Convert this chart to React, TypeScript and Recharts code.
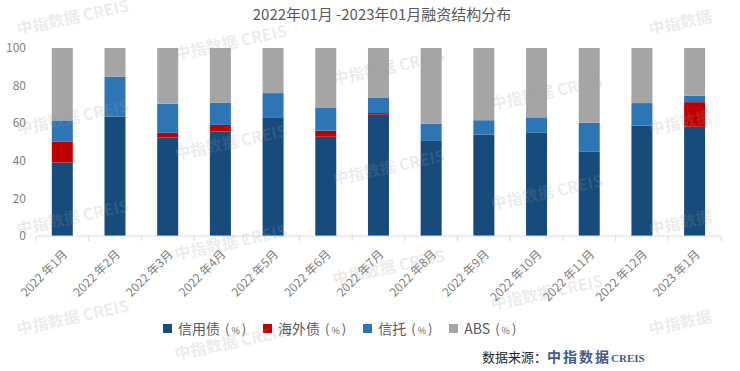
import React from 'react';
import { BarChart, Bar, XAxis, YAxis } from 'recharts';

const months = ['2022 年1月', '2022 年2月', '2022 年3月', '2022 年4月', '2022 年5月', '2022 年6月', '2022 年7月', '2022 年8月', '2022 年9月', '2022 年10月', '2022 年11月', '2022 年12月', '2023 年1月'];
const credit = [39.1, 63.6, 52.4, 55.6, 63.2, 52.8, 64.5, 50.6, 54.0, 54.9, 44.9, 58.8, 58.1];
const overseas = [11.2, 0, 2.5, 3.5, 0, 3.2, 0.9, 0, 0, 0, 0, 0, 13.1];
const trust = [11.2, 21.1, 15.4, 11.8, 12.8, 12.4, 8.3, 9.1, 7.6, 8.2, 15.3, 11.9, 3.4];
const absShare = [38.5, 15.3, 29.7, 29.1, 24.0, 31.6, 26.3, 40.3, 38.4, 36.9, 39.8, 29.3, 25.4];
const yTicks = [0, 20, 40, 60, 80, 100];

const seriesNames = ['信用债', '海外债', '信托', 'ABS'];
const unitSuffix = '（%）';
const seriesKeys = ['credit', 'overseas', 'trust', 'abs'];
const seriesColors = ['#164B7C', '#C00000', '#2E75B6', '#A5A5A5'];

const data = months.map((m, i) => ({
  month: m,
  credit: credit[i],
  overseas: overseas[i],
  trust: trust[i],
  abs: absShare[i],
}));

const W = 740;
const H = 371;
const MARGIN = { top: 48, right: 19, left: 6, bottom: 75 };
const Y_W = 30;
const PLOT_W = W - MARGIN.left - MARGIN.right - Y_W;
const BAND = PLOT_W / months.length;
const FONT = '"Noto Sans CJK SC", "Noto Sans", sans-serif';

const XTick = (props: any) => {
  const { x, y, payload } = props;
  const idx = payload?.index ?? props.index ?? 0;
  return (
    <g>
      <line x1={x - BAND / 2} x2={x - BAND / 2} y1={y} y2={y + 5} stroke="#d9d9d9" />
      {idx === months.length - 1 && (
        <line x1={x + BAND / 2} x2={x + BAND / 2} y1={y} y2={y + 5} stroke="#d9d9d9" />
      )}
      <g transform={`translate(${x + 6},${y + 19}) rotate(-45)`}>
        <text x={0} y={0} textAnchor="end" fill="#7f7f7f" fontSize={12} fontFamily={FONT}>
          {payload.value}
        </text>
      </g>
    </g>
  );
};

const watermarks: { x: number; y: number; t: string }[] = [];
for (let c = 0; c < 5; c++) {
  const x = 18 + 158 * c;
  const base = ((35 + 25 * c) % 100) - 100;
  for (let r = 0; r < 6; r++) {
    const y = base + 100 * r;
    if (y < 30 || y > 368) continue;
    watermarks.push({ x, y, t: c === 4 ? '中指数据' : '中指数据 CREIS' });
  }
}

export default function App() {
  return (
    <div style={{ position: 'absolute', left: 0, top: 0, width: W, height: H, background: '#fff', overflow: 'hidden', fontFamily: FONT }}>
      <div style={{ position: 'absolute', left: 0, top: 6, width: 764, textAlign: 'center', fontSize: 15, lineHeight: '15px', color: '#595959', whiteSpace: 'nowrap' }}>
        2022年01月 -2023年01月融资结构分布
      </div>
      <BarChart width={W} height={H} data={data} margin={MARGIN} barCategoryGap="30%">
        <XAxis
          dataKey="month"
          height={60}
          interval={0}
          tickLine={false}
          tickSize={0}
          tickMargin={0}
          axisLine={{ stroke: '#d9d9d9' }}
          tick={(p: any) => <XTick {...p} />}
        />
        <YAxis
          domain={[0, 100]}
          ticks={yTicks}
          width={Y_W}
          axisLine={false}
          tickLine={false}
          tickMargin={4}
          tick={{ fill: '#7f7f7f', fontSize: 12, fontFamily: FONT }}
        />
        {seriesKeys.map((k, i) => (
          <Bar key={k} dataKey={k} name={seriesNames[i] + unitSuffix} stackId="a" fill={seriesColors[i]} isAnimationActive={false} />
        ))}
      </BarChart>
      <div style={{ position: 'absolute', left: 163, top: 318, height: 20, display: 'flex', alignItems: 'center', fontSize: 14, color: '#595959', whiteSpace: 'nowrap' }}>
        {seriesNames.map((n, i) => (
          <div key={n} style={{ display: 'flex', alignItems: 'center', marginRight: 17 }}>
            <span style={{ width: 9, height: 9, background: seriesColors[i], display: 'inline-block', marginRight: 6 }} />
            <span>{n}</span>
            <span style={{ marginLeft: 5, fontSize: 13 }}>(<span style={{ fontSize: 9, margin: '0 2px' }}>%</span>)</span>
          </div>
        ))}
      </div>
      <div style={{ position: 'absolute', left: 482, top: 347, height: 18, lineHeight: '18px', fontSize: 13, whiteSpace: 'nowrap' }}>
        <span style={{ color: '#262626' }}>数据来源：</span>
        <span style={{ color: '#3F5B8C', fontWeight: 700, fontSize: 14, letterSpacing: 2 }}>中指数据</span>
        <span style={{ color: '#3F5B8C', fontWeight: 700, fontFamily: '"Liberation Serif", serif', fontSize: 11 }}>CREIS</span>
      </div>
      <svg width={W} height={H} style={{ position: 'absolute', left: 0, top: 0, pointerEvents: 'none' }}>
        {watermarks.map((w, i) => (
          <text key={i} x={w.x} y={w.y} transform={`rotate(-12 ${w.x} ${w.y})`} fontSize={16} fontWeight={700} fill="#9e9e9e" fillOpacity={0.2} fontFamily={FONT}>
            {w.t}
          </text>
        ))}
      </svg>
    </div>
  );
}
